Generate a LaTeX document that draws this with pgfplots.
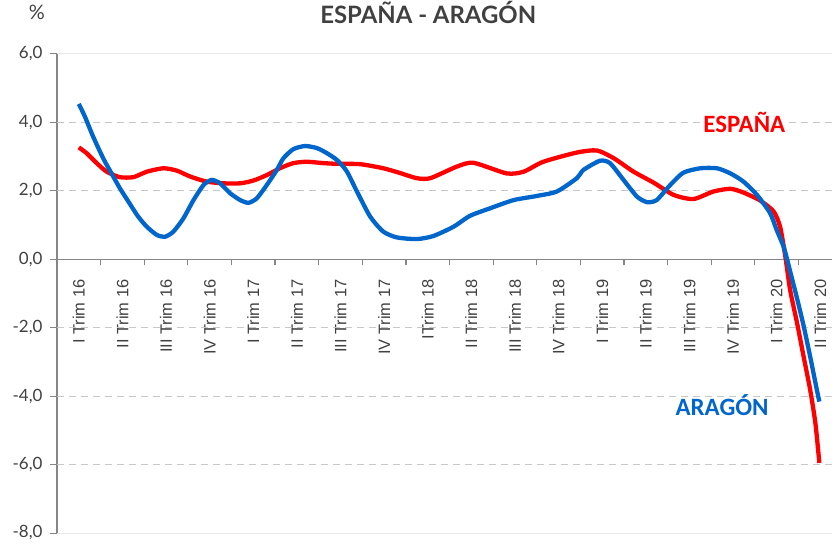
\documentclass[border=0pt]{standalone}
\usepackage{fontspec}
\setmainfont{Lato}
\newfontfamily\arialf{Liberation Sans}
\newfontfamily\calib{Carlito}
\usepackage{pgfplots}
\pgfplotsset{compat=1.18}
\definecolor{espred}{HTML}{FF0000}
\definecolor{aragblue}{HTML}{0066CC}
\definecolor{txtgray}{HTML}{404040}
\definecolor{gridgray}{HTML}{C8C8C8}
\definecolor{axgray}{HTML}{868686}
\begin{document}
\begin{tikzpicture}
\begin{axis}[
  scale only axis, width=775bp, height=479bp,
  xmin=-0.5, xmax=17.27, ymin=-8, ymax=6,
  clip=false,
  axis x line=middle, axis y line=left,
  axis line style={-, draw=axgray, line width=1.2bp},
  tick align=outside,
  xtick={0,...,17},
  xticklabels={I Trim 16, II Trim 16, III Trim 16, IV Trim 16, I Trim 17, II Trim 17, III Trim 17, IV Trim 17, ITrim 18, II Trim 18, III Trim 18, IV Trim 18, I Trim 19, II Trim 19, III Trim 19, IV Trim 19, I Trim 20, II Trim 20},
  major x tick style={draw=none},
  minor xtick={-0.5,0.5,...,16.5},
  minor x tick style={draw=axgray, line width=1.2bp},
  minor tick length=6bp,
  major tick length=7bp,
  ytick={-8,-6,...,6},
  y tick style={draw=axgray, line width=1bp},
  xticklabel style={rotate=90, anchor=east, inner sep=0pt, font=\arialf\fontsize{16.5}{16.5}\selectfont, text=txtgray, xshift=-13bp},
  yticklabel style={font=\fontsize{17}{17}\selectfont, text=txtgray, xshift=-4bp},
  yticklabel={\pgfmathprintnumber[fixed, fixed zerofill, precision=1, use comma, assume math mode=true]{\tick}},
  extra y ticks={-6,-4,-2,2,4},
  extra y tick labels={},
  extra y tick style={grid=major, major grid style={draw=gridgray, dash pattern=on 7bp off 5bp, line width=1bp}, major tick length=0pt},
]
\draw[gray!18, line width=1bp] (rel axis cs:0,1) -- (rel axis cs:1,1);
\draw[gray!18, line width=1bp] (rel axis cs:0,0) -- (rel axis cs:1,0);

\addplot[espred, line width=4.3bp, smooth, tension=0.4] coordinates {
(0,3.27) (0.18,3.10) (0.41,2.81) (0.64,2.56) (0.94,2.40) (1.25,2.40) (1.56,2.56)
(1.94,2.66) (2.25,2.59) (2.55,2.42) (2.93,2.27) (3.31,2.22) (3.70,2.22) (4.00,2.30)
(4.31,2.46) (4.61,2.66) (4.92,2.81) (5.23,2.85) (5.61,2.81) (5.92,2.79) (6.45,2.78)
(6.98,2.66) (7.37,2.52) (7.75,2.37) (8.06,2.37) (8.67,2.71) (9.05,2.82) (9.81,2.51)
(10.20,2.56) (10.65,2.85) (11.42,3.12) (11.88,3.18) (12.27,2.95) (12.72,2.56)
(13.18,2.24) (13.64,1.88) (14.09,1.76) (14.55,1.98) (14.94,2.06) (15.24,1.95)
(15.62,1.72) (15.93,1.40) (16.08,0.95) (16.20,0.08) (16.31,-0.90) (16.47,-1.87)
(16.62,-2.85) (16.77,-3.82) (16.89,-4.80) (16.98,-5.95)
};
\addplot[aragblue, line width=4.3bp, smooth, tension=0.4] coordinates {
(0,4.54) (0.14,4.17) (0.33,3.58) (0.56,2.95) (0.75,2.51) (0.94,2.08) (1.14,1.68)
(1.36,1.25) (1.56,0.95) (1.79,0.71) (1.98,0.66) (2.17,0.81) (2.40,1.20) (2.63,1.73)
(2.86,2.17) (3.05,2.32) (3.24,2.22) (3.47,1.93) (3.70,1.73) (3.89,1.65) (4.08,1.78)
(4.31,2.17) (4.54,2.61) (4.69,2.95) (4.92,3.22) (5.19,3.31) (5.46,3.25) (5.69,3.10)
(5.92,2.90) (6.14,2.58) (6.37,2.00) (6.68,1.25) (6.98,0.81) (7.29,0.64) (7.75,0.59)
(8.13,0.68) (8.59,0.95) (8.97,1.27) (9.43,1.49) (9.97,1.73) (10.50,1.85) (10.96,1.98)
(11.42,2.37) (11.57,2.61) (11.95,2.88) (12.18,2.81) (12.49,2.32) (12.80,1.83)
(13.03,1.67) (13.25,1.73) (13.56,2.17) (13.86,2.53) (14.25,2.66) (14.63,2.66)
(14.94,2.51) (15.24,2.27) (15.55,1.88) (15.85,1.35) (16.00,0.86) (16.16,0.37)
(16.24,0.00) (16.35,-0.55) (16.47,-1.15) (16.62,-1.95) (16.77,-2.85) (16.92,-3.80) (16.98,-4.16)
};

\node[font=\calib\bfseries\fontsize{25}{25}\selectfont, text=espred, fill=white, inner sep=3bp] at (axis cs:15.26,3.99) {ESPAÑA};
\node[font=\calib\bfseries\fontsize{25}{25}\selectfont, text=aragblue, inner sep=1bp] at (axis cs:14.75,-4.26) {ARAGÓN};
\node[font=\bfseries\fontsize{24}{24}\selectfont, text=txtgray] at (rel axis cs:0.479,1.086) {ESPAÑA - ARAGÓN};
\node[font=\fontsize{20}{20}\selectfont, text=txtgray] at (rel axis cs:-0.026,1.0866) {\%};
\end{axis}
\pgfresetboundingbox
\path (current axis.south west) ++(-57bp,-11bp) rectangle ++(832bp,544bp);
\end{tikzpicture}
\end{document}
